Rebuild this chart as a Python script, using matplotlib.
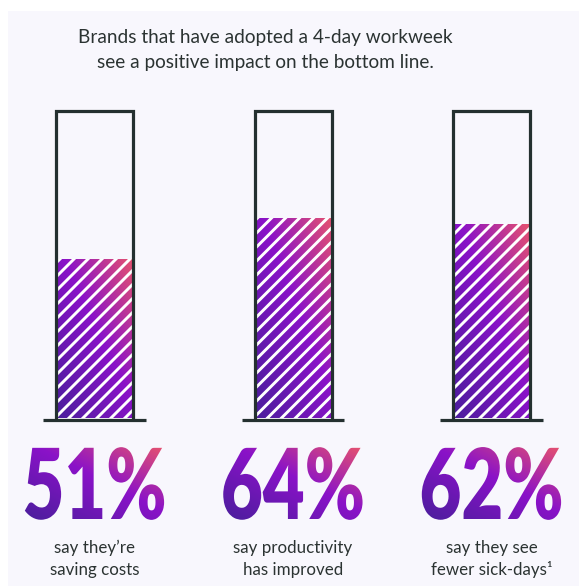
import numpy as np
import matplotlib
matplotlib.use("Agg")
import matplotlib.pyplot as plt
from matplotlib.patches import Rectangle
from matplotlib.lines import Line2D
from matplotlib.colors import LinearSegmentedColormap
import matplotlib.patheffects as pe
from matplotlib.transforms import Affine2D, IdentityTransform

# ---- data -------------------------------------------------------------
title_lines = ["Brands that have adopted a 4-day workweek",
               "see a positive impact on the bottom line."]
shares = [51, 64, 62]
share_labels = ["51%", "64%", "62%"]
captions = ["say they\u2019re\nsaving costs",
            "say productivity\nhas improved",
            "say they see\nfewer sick-days\u00b9"]

# ---- style ------------------------------------------------------------
W, H = 579, 586
BG = "#f8f7fd"
INK = "#2b3332"
TUBE = "#243030"
FONT = ["Lato", "DejaVu Sans"]
grad = LinearSegmentedColormap.from_list(
    "brand", [(0.0, "#4a1e9c"), (0.55, "#8a12c8"), (1.0, "#e6526f")])

fig = plt.figure(figsize=(W / 100, H / 100), dpi=100)
fig.patch.set_facecolor("white")
fig.patches.append(Rectangle((8 / W, 0), 1 - 8 / W, 1 - 11 / H,
                             transform=fig.transFigure, facecolor=BG,
                             edgecolor="none", zorder=-10))

# axes: y=0 at the tube floor, 100 near the tube top
PX_PER_UNIT = 198.5
X0 = 94.5
y_floor, y_full = 418, 105.5
ax = fig.add_axes([0, (H - y_floor) / H, 1, (y_floor - y_full) / H])
ax.set_xlim(-X0 / PX_PER_UNIT, (W - X0) / PX_PER_UNIT)
ax.set_ylim(0, 100)
ax.axis("off")
ax.patch.set_visible(False)

x = np.arange(len(shares))
BAR_W = 77 / PX_PER_UNIT
TUBE_TOP = (y_floor - 110.5) / (y_floor - y_full) * 100

bars = ax.bar(x, shares, width=BAR_W, color="none", edgecolor="none", zorder=2)

gy, gx = np.mgrid[0:1:200j, 0:1:200j]
tgrid = (gx + gy) / 2
for xi, b in zip(x, bars):
    x0, x1 = b.get_x(), b.get_x() + b.get_width()
    im = ax.imshow(tgrid, cmap=grad, origin="lower", aspect="auto",
                   extent=(x0, x1, 0, b.get_height()), zorder=2,
                   interpolation="bilinear")
    im.set_clip_path(b)
    # white diagonal stripes, in pixel space
    (px0, py0), (px1, py1) = ax.transData.transform([(x0, 0), (x1, b.get_height())])
    for c in np.arange(py0 - px1 - 20, py1 - px0 + 20, 14.0):
        ln = Line2D([px0 - 5, px1 + 5], [px0 - 5 + c, px1 + 5 + c],
                    transform=IdentityTransform(), color="white", lw=2.1,
                    zorder=3, solid_capstyle="butt")
        ax.add_line(ln)
        ln.set_clip_path(b)
    # tube outline (open at the bottom) and floor line
    ax.plot([x0, x0, x1, x1], [0, TUBE_TOP, TUBE_TOP, 0], color=TUBE,
            lw=2.3, solid_joinstyle="miter", zorder=4, clip_on=False)
    ax.plot([xi - 0.258, xi + 0.258], [-0.5, -0.5], color=TUBE, lw=2.3,
            solid_capstyle="butt", zorder=4, clip_on=False)

ax.set_xlim(-X0 / PX_PER_UNIT, (W - X0) / PX_PER_UNIT)
ax.set_ylim(0, 100)


# ---- gradient headline numbers, reshaped about their baseline ----------
class Reshape(pe.AbstractPathEffect):
    def __init__(self, sx, sy, cx, cy):
        super().__init__()
        self.sx, self.sy, self.cx, self.cy = sx, sy, cx, cy

    def draw_path(self, renderer, gc, tpath, affine, rgbFace=None):
        aff = affine + (Affine2D().translate(-self.cx, -self.cy)
                        .scale(self.sx, self.sy).translate(self.cx, self.cy))
        renderer.draw_path(gc, tpath, aff, rgbFace)


def gradient_fill(img, dpi):
    h, w = img.shape[:2]
    u = np.linspace(0, 1, w)[None, :]
    v = np.linspace(1, 0, h)[:, None]
    out = img.copy()
    out[..., :3] = grad((u + v) / 2)[..., :3]
    return out, 0, 0


renderer = fig.canvas.get_renderer()
centers_px = ax.transData.transform(np.c_[x, np.zeros_like(x)])[:, 0]
NUM_BASE = 519
full_size = 70 / 0.7165 * 72 / 100          # gives a ~70 px cap height
num_font = dict(fontweight="heavy", fontstyle="normal", family=FONT)
probe = fig.text(0, 0, share_labels[0], fontsize=full_size, **num_font)
w_full = probe.get_window_extent(renderer).width
probe.remove()
num_size = full_size * 152 / w_full         # laid out ~152 px wide
sy = full_size / num_size
sx = 144 / 152

for cx, lab in zip(centers_px, share_labels):
    t = fig.text(cx / W, 1 - NUM_BASE / H, lab, ha="center", va="baseline",
                 color="#8a12c8", fontsize=num_size, **num_font)
    t.set_path_effects([Reshape(sx, sy, cx, H - NUM_BASE)])
    t.set_agg_filter(gradient_fill)

for cx, cap in zip(centers_px, captions):
    for j, line in enumerate(cap.split("\n")):
        fig.text(cx / W, 1 - (553 + 22 * j) / H, line, ha="center",
                 va="baseline", fontsize=12.2, family=FONT, color=INK)

# ---- title --------------------------------------------------------------
tsize = 14
probe = fig.text(0, 0, title_lines[0], fontsize=tsize, family=FONT)
tsize *= 376 / probe.get_window_extent(renderer).width
probe.remove()
for j, line in enumerate(title_lines):
    fig.text(265 / W, 1 - (43 + 25 * j) / H, line, ha="center", va="baseline",
             fontsize=tsize, family=FONT, color=INK)

fig.savefig("out.png", dpi=100, facecolor="white")
